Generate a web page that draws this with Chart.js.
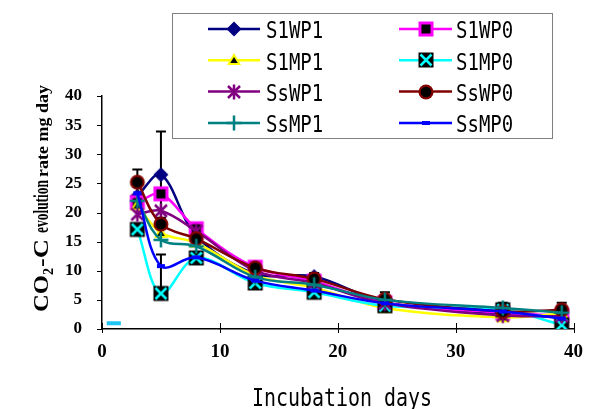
<!DOCTYPE html>
<html>
<head>
<meta charset="utf-8">
<script src="https://cdn.jsdelivr.net/npm/chart.js@4/dist/chart.umd.min.js"></script>
<style>
  html, body { margin: 0; padding: 0; background: #fff; }
  #co2Chart { display: block; }
</style>
</head>
<body>
<canvas id="co2Chart" width="595" height="409"></canvas>
<script>
// incubation days (x) and CO2-C evolution rate per treatment
const days = [3, 5, 8, 13, 18, 24, 34, 39];
const seriesNames = ['S1WP1', 'S1WP0', 'S1MP1', 'S1MP0', 'SsWP1', 'SsWP0', 'SsMP1', 'SsMP0'];
const s1wp1 = [22.8, 26.5, 16.0, 9.5, 9.0, 4.6, 2.6, 2.0];
const s1wp0 = [21.7, 23.2, 17.2, 10.6, 8.2, 4.5, 2.8, 2.3];
const s1mp1 = [21.2, 16.5, 14.8, 9.2, 7.1, 3.6, 2.0, 2.6];
const s1mp0 = [17.1, 6.1, 12.2, 7.9, 6.3, 4.0, 3.3, 0.7];
const sswp1 = [19.7, 20.3, 16.8, 10.0, 7.9, 4.4, 2.3, 2.2];
const sswp0 = [25.2, 18.0, 15.5, 10.5, 8.6, 5.1, 3.0, 3.3];
const ssmp1 = [22.0, 15.3, 14.2, 8.9, 7.6, 5.0, 3.6, 2.8];
const ssmp0 = [23.3, 10.8, 12.3, 8.3, 6.6, 4.4, 3.0, 1.8];
const xTicks = [0, 10, 20, 30, 40];
const yTicks = [0, 5, 10, 15, 20, 25, 30, 35, 40];
// [series, day index, plus, minus]
const errorBars = [
    ['SsWP0', 0, 2.2, 2.2],
    ['S1WP1', 1, 7.4, 7.4],
    ['S1MP0', 1, 6.7, 0],
    ['SsWP0', 4, 1.0, 1.0],
    ['SsWP0', 5, 1.2, 1.2],
    ['SsMP1', 6, 0.9, 0.9],
    ['SsWP0', 7, 1.2, 1.2]
];
// small stray cyan mark near the origin
const strayX = [0.4, 1.6];
const strayY = [1, 1];

const seriesValues = [s1wp1, s1wp0, s1mp1, s1mp0, sswp1, sswp0, ssmp1, ssmp0];
const seriesColors = ['#000080', '#FF00FF', '#FFFF00', '#00FFFF', '#800080', '#800000', '#008080', '#0000FF'];
const markerKinds = ['diamond', 'square', 'triangle', 'xbox', 'star', 'circle', 'plus', 'dash'];

// build little canvases used as point markers
function makeMarker(kind, color) {
    const c = document.createElement('canvas');
    c.width = 18; c.height = 18;
    const g = c.getContext('2d');
    const m = 9;
    g.lineCap = 'butt';
    if (kind === 'diamond') {
        g.fillStyle = color;
        g.beginPath();
        g.moveTo(m, m - 7.5); g.lineTo(m + 7.5, m); g.lineTo(m, m + 7.5); g.lineTo(m - 7.5, m);
        g.closePath(); g.fill();
    } else if (kind === 'square') {
        g.fillStyle = color;
        g.fillRect(m - 7.5, m - 7.5, 15, 15);
        g.fillStyle = '#000';
        g.fillRect(m - 4.5, m - 4.5, 9, 9);
    } else if (kind === 'triangle') {
        g.fillStyle = color;
        g.beginPath();
        g.moveTo(m, m - 7); g.lineTo(m + 7, m + 5); g.lineTo(m - 7, m + 5);
        g.closePath(); g.fill();
        g.fillStyle = '#000';
        g.beginPath();
        g.moveTo(m, m - 3); g.lineTo(m + 3.8, m + 3); g.lineTo(m - 3.8, m + 3);
        g.closePath(); g.fill();
    } else if (kind === 'xbox') {
        g.fillStyle = '#000';
        g.fillRect(m - 7.5, m - 7.5, 15, 15);
        g.strokeStyle = color; g.lineWidth = 2.5;
        g.beginPath();
        g.moveTo(m - 5.5, m - 5.5); g.lineTo(m + 5.5, m + 5.5);
        g.moveTo(m + 5.5, m - 5.5); g.lineTo(m - 5.5, m + 5.5);
        g.stroke();
    } else if (kind === 'star') {
        g.strokeStyle = color; g.lineWidth = 2.5;
        g.beginPath();
        g.moveTo(m, m - 7.5); g.lineTo(m, m + 7.5);
        g.moveTo(m - 6, m - 6); g.lineTo(m + 6, m + 6);
        g.moveTo(m + 6, m - 6); g.lineTo(m - 6, m + 6);
        g.stroke();
    } else if (kind === 'circle') {
        g.fillStyle = color;
        g.beginPath(); g.arc(m, m, 7.5, 0, Math.PI * 2); g.fill();
        g.fillStyle = '#000';
        g.beginPath(); g.arc(m, m, 5.3, 0, Math.PI * 2); g.fill();
    } else if (kind === 'plus') {
        g.strokeStyle = color; g.lineWidth = 2.5;
        g.beginPath();
        g.moveTo(m, m - 7.5); g.lineTo(m, m + 7.5);
        g.moveTo(m - 7.5, m); g.lineTo(m + 7.5, m);
        g.stroke();
    } else if (kind === 'dash') {
        g.fillStyle = color;
        g.fillRect(m - 4, m - 2, 8, 4);
    }
    return c;
}

const markers = markerKinds.map((k, i) => makeMarker(k, seriesColors[i]));

const datasets = seriesNames.map((name, i) => ({
    label: name,
    data: days.map((d, j) => ({ x: d, y: seriesValues[i][j] })),
    borderColor: seriesColors[i],
    backgroundColor: seriesColors[i],
    borderWidth: 2.5,
    showLine: true,
    tension: 0.35,
    pointStyle: markers[i],
    pointRadius: 7,
    order: 10 - i
}));
datasets.push({
    label: 'stray',
    data: strayX.map((x, j) => ({ x: x, y: strayY[j] })),
    borderColor: '#22C4F4',
    borderWidth: 4,
    showLine: true,
    pointRadius: 0,
    order: 0
});

const serif = '"Liberation Serif", "Times New Roman", serif';
const mono = '"DejaVu Sans Mono", monospace';

// error bars, tick marks, axis titles and the boxed legend
const decorations = {
    id: 'decorations',
    beforeDatasetsDraw(chart) {
        const ctx = chart.ctx;
        const xs = chart.scales.x, ys = chart.scales.y;
        ctx.save();
        ctx.strokeStyle = '#000';
        ctx.lineWidth = 2;
        errorBars.forEach(([name, j, plus, minus]) => {
            const i = seriesNames.indexOf(name);
            const v = seriesValues[i][j];
            const px = xs.getPixelForValue(days[j]);
            const top = ys.getPixelForValue(v + plus);
            const bot = ys.getPixelForValue(v - minus);
            ctx.beginPath();
            ctx.moveTo(px, top); ctx.lineTo(px, bot);
            ctx.moveTo(px - 5, top); ctx.lineTo(px + 5, top);
            if (minus > 0) { ctx.moveTo(px - 5, bot); ctx.lineTo(px + 5, bot); }
            ctx.stroke();
        });
        ctx.restore();
    },
    afterDraw(chart) {
        const ctx = chart.ctx;
        const xs = chart.scales.x, ys = chart.scales.y;
        const area = chart.chartArea;
        ctx.save();
        // tick marks
        ctx.strokeStyle = '#000';
        ctx.lineWidth = 1;
        ctx.beginPath();
        xTicks.forEach(t => {
            const px = Math.round(xs.getPixelForValue(t)) + 0.5;
            ctx.moveTo(px, area.bottom - 6); ctx.lineTo(px, area.bottom + 4);
        });
        yTicks.forEach(t => {
            const py = Math.round(ys.getPixelForValue(t)) + 0.5;
            ctx.moveTo(area.left - 5, py); ctx.lineTo(area.left, py);
        });
        ctx.stroke();

        // x title
        ctx.fillStyle = '#000';
        ctx.font = '20px ' + mono;
        ctx.textBaseline = 'alphabetic';
        ctx.textAlign = 'left';
        const xt = 'Incubation days';
        const xw = ctx.measureText(xt).width;
        ctx.save();
        ctx.translate(252, 406);
        ctx.scale(180 / xw, 1.23);
        ctx.fillText(xt, 0, 0);
        ctx.restore();

        // y title, rotated, with subscript
        ctx.save();
        ctx.translate(48, 312);
        ctx.rotate(-Math.PI / 2);
        const parts = [
            { t: 'CO', size: 22, at: 0, w: 37, dy: 0 },
            { t: '2', size: 14, at: 37, w: 7, dy: 5 },
            { t: '-C', size: 22, at: 45, w: 28, dy: 0 },
            { t: 'evolution', size: 20, at: 79, w: 53, dy: 0 },
            { t: 'rate mg day', size: 17, at: 135, w: 92, dy: 0 }
        ];
        parts.forEach(p => {
            ctx.font = 'bold ' + p.size + 'px ' + serif;
            const mw = ctx.measureText(p.t).width;
            ctx.save();
            ctx.translate(p.at, p.dy);
            ctx.scale(p.w / mw, 1);
            ctx.fillText(p.t, 0, 0);
            ctx.restore();
        });
        ctx.restore();

        // legend box
        ctx.fillStyle = '#fff';
        ctx.fillRect(172, 13, 380, 125);
        ctx.strokeStyle = '#808080';
        ctx.lineWidth = 1;
        ctx.strokeRect(172.5, 13.5, 380, 125);
        seriesNames.forEach((name, i) => {
            const col = i % 2, row = Math.floor(i / 2);
            const y = 29 + row * 31.3;
            const x0 = col ? 399 : 208, x1 = col ? 452 : 260;
            ctx.strokeStyle = seriesColors[i];
            ctx.lineWidth = 2.5;
            ctx.beginPath();
            ctx.moveTo(x0, y); ctx.lineTo(x1, y);
            ctx.stroke();
            const mk = markers[i];
            ctx.drawImage(mk, Math.round((x0 + x1) / 2 - mk.width / 2), Math.round(y - mk.height / 2));
            ctx.fillStyle = '#000';
            ctx.font = '19px ' + mono;
            ctx.save();
            ctx.translate(col ? 456 : 266, y + 9.3);
            ctx.scale(1, 1.18);
            ctx.fillText(name, 0, 0);
            ctx.restore();
        });
        ctx.restore();
    }
};

const chart = new Chart(document.getElementById('co2Chart'), {
    type: 'scatter',
    data: { datasets: datasets },
    options: {
        responsive: false,
        animation: false,
        devicePixelRatio: 1,
        layout: { padding: { left: 0, top: 96, right: 12, bottom: 0 } },
        plugins: {
            legend: { display: false },
            tooltip: { enabled: false }
        },
        scales: {
            x: {
                type: 'linear',
                min: 0,
                max: 40,
                afterFit: s => { s.height = 80; },
                afterBuildTicks: s => { s.ticks = xTicks.map(v => ({ value: v })); },
                ticks: {
                    color: '#000',
                    padding: 12,
                    maxRotation: 0,
                    font: { family: serif, size: 19, weight: 'bold' }
                },
                grid: { display: false, drawTicks: false },
                border: { display: true, color: '#000', width: 1.5 }
            },
            y: {
                min: 0,
                max: 40,
                afterFit: s => { s.width = 102; },
                afterBuildTicks: s => { s.ticks = yTicks.map(v => ({ value: v })); },
                ticks: {
                    color: '#000',
                    padding: 20,
                    font: { family: serif, size: 17, weight: 'bold' }
                },
                grid: { display: false, drawTicks: false },
                border: { display: true, color: '#000', width: 1.5 }
            }
        }
    },
    plugins: [decorations]
});
</script>
</body>
</html>
